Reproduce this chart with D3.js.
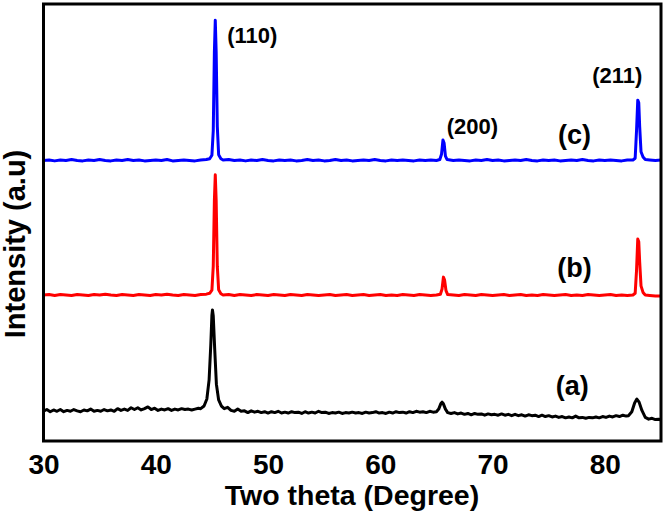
<!DOCTYPE html>
<html><head><meta charset="utf-8">
<script src="https://cdn.jsdelivr.net/npm/d3@7/dist/d3.min.js"></script>
<style>html,body{margin:0;padding:0;background:#fff;}svg{display:block;}</style>
</head><body>
<svg id="c" width="666" height="513"></svg>
<script>
// x-axis tick labels
const xTickLabels = [30, 40, 50, 60, 70, 80];

// (c) sample - blue: [2theta, intensity]
const seriesC = [[30,64.2],[30.5,64.3],[31,64.1],[31.5,64.3],[32,64.2],[32.5,64.4],[33,64.2],[33.5,64.1],[34,64.3],[34.5,64.2],[35,64.4],[35.5,64.2],[36,64.1],[36.5,64.3],[37,64.2],[37.5,64.4],[38,64.2],[38.5,64.3],[39,64.1],[39.5,64.2],[40,64.3],[40.5,64.2],[41,64.4],[41.5,64.1],[42,64.2],[42.5,64.3],[43,64.2],[43.5,64.1],[44,64.3],[44.5,64.4],[44.8,64.6],[45.0,65.4],[45.12,71],[45.22,89],[45.3,96.3],[45.38,89],[45.48,72],[45.6,65.5],[45.8,64.6],[46,64.3],[46.5,64.4],[47,64.2],[47.5,64.3],[48,64.1],[48.5,64.3],[49,64.2],[49.5,64.4],[50,64.2],[50.5,64.1],[51,64.3],[51.5,64.2],[52,64.3],[52.5,64.1],[53,64.2],[53.5,64.4],[54,64.2],[54.5,64.3],[55,64.1],[55.5,64.2],[56,64.4],[56.5,64.2],[57,64.3],[57.5,64.1],[58,64.2],[58.5,64.3],[59,64.2],[59.5,64.4],[60,64.2],[60.5,64.1],[61,64.3],[61.5,64.2],[62,64.3],[62.5,64.2],[63,64.1],[63.5,64.3],[64,64.2],[64.5,64.3],[65,64.2],[65.3,64.4],[65.45,65.6],[65.58,68.9],[65.68,68.2],[65.8,65.2],[65.95,64.4],[66.5,64.2],[67,64.3],[67.5,64.2],[68,64.1],[68.5,64.3],[69,64.2],[69.5,64.4],[70,64.2],[70.5,64.3],[71,64.1],[71.5,64.2],[72,64.3],[72.5,64.2],[73,64.4],[73.5,64.2],[74,64.1],[74.5,64.3],[75,64.2],[75.5,64.3],[76,64.1],[76.5,64.2],[77,64.3],[77.5,64.2],[78,64.4],[78.5,64.2],[79,64.1],[79.5,64.3],[80,64.2],[80.5,64.3],[81,64.2],[81.5,64.1],[82,64.3],[82.5,64.3],[82.7,64.7],[82.82,71],[82.93,78],[83.02,77.4],[83.1,72],[83.22,66.2],[83.4,65.0],[83.6,64.4],[84,64.3],[84.5,64.2],[85,64.3]];

// (b) sample - red
const seriesB = [[30,33.4],[30.5,33.5],[31,33.3],[31.5,33.5],[32,33.4],[32.5,33.3],[33,33.5],[33.5,33.4],[34,33.3],[34.5,33.5],[35,33.4],[35.5,33.6],[36,33.4],[36.5,33.3],[37,33.5],[37.5,33.4],[38,33.3],[38.5,33.5],[39,33.4],[39.5,33.3],[40,33.5],[40.5,33.4],[41,33.6],[41.5,33.4],[42,33.3],[42.5,33.5],[43,33.4],[43.5,33.3],[44,33.5],[44.5,33.6],[44.8,33.8],[45.0,34.5],[45.12,40],[45.22,55],[45.3,60.9],[45.38,55],[45.48,40],[45.6,34.6],[45.8,33.7],[46,33.4],[46.5,33.5],[47,33.3],[47.5,33.5],[48,33.4],[48.5,33.3],[49,33.5],[49.5,33.4],[50,33.3],[50.5,33.5],[51,33.4],[51.5,33.3],[52,33.5],[52.5,33.4],[53,33.3],[53.5,33.5],[54,33.4],[54.5,33.3],[55,33.4],[55.5,33.5],[56,33.3],[56.5,33.4],[57,33.5],[57.5,33.3],[58,33.4],[58.5,33.5],[59,33.3],[59.5,33.4],[60,33.5],[60.5,33.3],[61,33.4],[61.5,33.3],[62,33.5],[62.5,33.4],[63,33.3],[63.5,33.5],[64,33.4],[64.5,33.3],[65,33.4],[65.35,33.6],[65.5,34.8],[65.62,37.5],[65.72,36.9],[65.85,34.4],[66.0,33.5],[66.5,33.4],[67,33.3],[67.5,33.5],[68,33.4],[68.5,33.3],[69,33.5],[69.5,33.4],[70,33.3],[70.5,33.4],[71,33.5],[71.5,33.3],[72,33.4],[72.5,33.5],[73,33.3],[73.5,33.4],[74,33.3],[74.5,33.5],[75,33.4],[75.5,33.3],[76,33.4],[76.5,33.5],[77,33.3],[77.5,33.4],[78,33.3],[78.5,33.5],[79,33.4],[79.5,33.3],[80,33.4],[80.5,33.5],[81,33.3],[81.5,33.4],[82,33.3],[82.5,33.4],[82.7,33.8],[82.82,39],[82.93,46.2],[83.02,45.6],[83.1,41],[83.22,35.5],[83.4,34.0],[83.6,33.4],[84,33.3],[84.5,33.2],[85,33.2]];

// (a) sample - black
const seriesA = [[30,6.8],[30.3,7.2],[30.6,6.7],[30.9,7.1],[31.2,6.8],[31.5,7.2],[31.8,6.7],[32.1,7.0],[32.4,6.8],[32.7,7.2],[33.0,6.9],[33.3,6.7],[33.6,7.1],[33.9,6.9],[34.2,7.3],[34.5,6.8],[34.8,7.0],[35.1,6.8],[35.4,7.2],[35.7,6.9],[36.0,7.1],[36.3,6.8],[36.6,7.4],[36.9,7.0],[37.2,7.3],[37.5,7.0],[37.8,7.6],[38.1,7.2],[38.4,7.6],[38.7,7.1],[39.0,7.4],[39.3,7.8],[39.6,7.2],[39.9,7.5],[40.2,7.0],[40.5,7.3],[40.8,7.1],[41.1,7.4],[41.4,7.0],[41.7,7.3],[42.0,7.1],[42.3,7.4],[42.6,7.2],[42.9,7.3],[43.2,7.1],[43.5,7.3],[43.8,7.5],[44.0,7.4],[44.3,8.0],[44.55,9.6],[44.75,14],[44.9,22],[45.0,28.8],[45.05,30.0],[45.12,28.6],[45.25,21],[45.4,13],[45.6,9.4],[45.85,8.0],[46.1,7.4],[46.4,7.7],[46.7,7.0],[47.0,6.8],[47.3,7.3],[47.6,6.8],[47.9,6.9],[48.2,6.5],[48.5,6.9],[48.8,6.6],[49.1,6.8],[49.4,6.5],[49.7,6.7],[50.0,6.4],[50.3,6.7],[50.6,6.5],[50.9,6.8],[51.2,6.4],[51.5,6.6],[51.8,6.4],[52.1,6.7],[52.4,6.5],[52.7,6.6],[53.0,6.3],[53.3,6.7],[53.6,6.4],[53.9,6.6],[54.2,6.4],[54.5,6.8],[54.8,6.5],[55.1,6.6],[55.4,6.3],[55.7,6.5],[56.0,6.4],[56.3,6.6],[56.6,6.3],[56.9,6.5],[57.2,6.4],[57.5,6.6],[57.8,6.4],[58.1,6.5],[58.4,6.3],[58.7,6.6],[59.0,6.4],[59.3,6.5],[59.6,6.7],[59.9,6.4],[60.2,6.5],[60.5,6.3],[60.8,6.6],[61.1,6.4],[61.4,6.7],[61.7,6.5],[62.0,6.6],[62.3,6.4],[62.6,6.7],[62.9,6.5],[63.2,6.8],[63.5,6.6],[63.8,6.7],[64.1,6.5],[64.4,6.8],[64.7,6.6],[65.0,6.7],[65.2,7.3],[65.4,8.6],[65.5,8.9],[65.6,8.6],[65.8,7.3],[66.0,6.5],[66.3,6.3],[66.6,6.5],[66.9,6.2],[67.2,6.4],[67.5,6.1],[67.8,6.3],[68.1,6.0],[68.4,6.3],[68.7,6.1],[69.0,6.2],[69.3,5.9],[69.6,6.2],[69.9,6.0],[70.2,6.1],[70.5,5.9],[70.8,6.2],[71.1,5.9],[71.4,6.1],[71.7,5.8],[72.0,6.1],[72.3,5.8],[72.6,6.0],[72.9,5.7],[73.2,6.0],[73.5,5.8],[73.8,5.9],[74.1,5.6],[74.4,5.9],[74.7,5.6],[75.0,5.8],[75.3,5.5],[75.6,5.7],[75.9,5.4],[76.2,5.6],[76.5,5.3],[76.8,5.5],[77.1,5.3],[77.4,5.7],[77.7,5.3],[78.0,5.4],[78.3,5.2],[78.6,5.4],[78.9,5.3],[79.2,5.5],[79.5,5.3],[79.8,5.6],[80.1,5.4],[80.4,5.7],[80.7,5.5],[81.0,5.8],[81.3,5.6],[81.6,5.9],[81.9,5.7],[82.1,5.8],[82.4,6.7],[82.65,8.7],[82.85,9.6],[83.05,8.9],[83.3,7.0],[83.6,5.4],[83.9,5.0],[84.2,5.2],[84.5,4.9],[84.8,5.0],[85,4.8]];

const seriesList = [
  {name: "(a)", color: "#000000", data: seriesA},
  {name: "(b)", color: "#ff0000", data: seriesB},
  {name: "(c)", color: "#0000ff", data: seriesC}
];
const sampleLabels = [
  {text: "(a)", x: 77.1, y: 10.6},
  {text: "(b)", x: 77.3, y: 37.5},
  {text: "(c)", x: 77.3, y: 68.0}
];
const peakLabels = [
  {text: "(110)", x: 48.6, y: 91.1},
  {text: "(200)", x: 68.2, y: 70.3},
  {text: "(211)", x: 81.1, y: 81.9}
];

const svg = d3.select("#c");
const x = d3.scaleLinear().domain([30, 85]).range([43.5, 661]);
const y = d3.scaleLinear().domain([0, 100]).range([441, 4]);

svg.append("clipPath").attr("id", "clip").append("rect")
  .attr("x", 43.5).attr("y", 4).attr("width", 661 - 43.5).attr("height", 437);

const line = d3.line().x(d => x(d[0])).y(d => y(d[1]));
const g = svg.append("g").attr("clip-path", "url(#clip)");
seriesList.forEach(s => {
  g.append("path").datum(s.data).attr("d", line)
    .attr("fill", "none").attr("stroke", s.color).attr("stroke-width", 3)
    .attr("stroke-linejoin", "round");
});

// frame
svg.append("rect").attr("x", 43.5).attr("y", 4).attr("width", 661 - 43.5).attr("height", 437)
  .attr("fill", "none").attr("stroke", "#000").attr("stroke-width", 3);

const FONT = "'Liberation Sans', Arial, sans-serif";

// x tick labels (no tick marks)
const ax = svg.append("g").attr("transform", "translate(0,441)")
  .call(d3.axisBottom(x).tickValues(xTickLabels).tickSize(0).tickFormat(d3.format("d")));
ax.select(".domain").remove();
ax.selectAll("text").attr("y", 33).attr("dy", 0)
  .attr("font-family", FONT).attr("font-size", 28).attr("font-weight", "bold").attr("fill", "#000");

// axis titles
svg.append("text").attr("x", 352).attr("y", 505)
  .attr("text-anchor", "middle").attr("font-family", FONT).attr("font-size", 28.5).attr("font-weight", "bold")
  .text("Two theta (Degree)");
svg.append("text").attr("transform", "translate(25,244) rotate(-90)")
  .attr("text-anchor", "middle").attr("font-family", FONT).attr("font-size", 29).attr("font-weight", "bold")
  .text("Intensity (a.u)");

// sample labels
svg.selectAll(".slab").data(sampleLabels).enter().append("text")
  .attr("x", d => x(d.x)).attr("y", d => y(d.y)).attr("text-anchor", "middle")
  .attr("font-family", FONT).attr("font-size", 27).attr("font-weight", "bold").text(d => d.text);
// peak labels
svg.selectAll(".plab").data(peakLabels).enter().append("text")
  .attr("x", d => x(d.x)).attr("y", d => y(d.y)).attr("text-anchor", "middle")
  .attr("font-family", FONT).attr("font-size", 22).attr("font-weight", "bold").text(d => d.text);
</script>
</body></html>
